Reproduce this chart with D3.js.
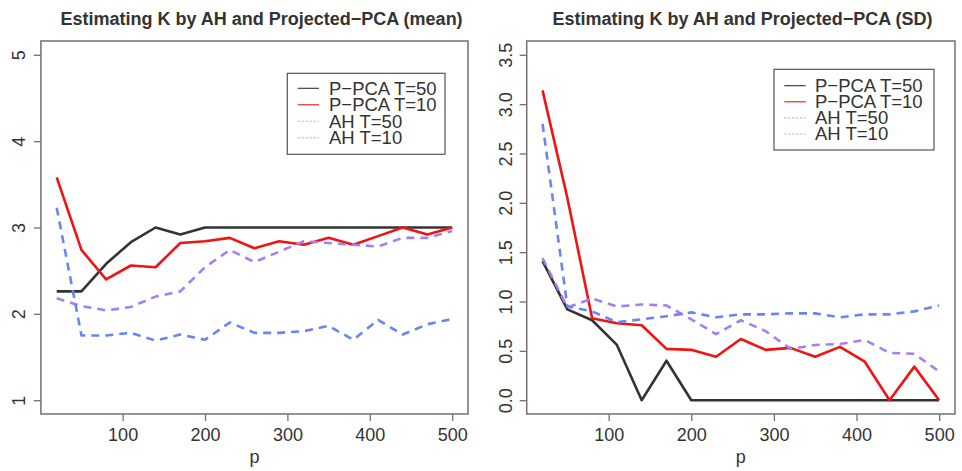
<!DOCTYPE html>
<html><head><meta charset="utf-8">
<script src="https://cdn.jsdelivr.net/npm/d3@7"></script>
<style>body{margin:0;background:#fff}svg{display:block}text{font-family:"Liberation Sans",Arial,sans-serif;fill:#333}</style>
</head><body>
<svg id="c" width="962" height="471"></svg>
<script>
const pValues = [20,50,80,110,140,170,200,230,260,290,320,350,380,410,440,470,500];
const xTicks = [100,200,300,400,500];

// mean panel
const meanPPCA50 = [2.26,2.26,2.58,2.83,3.0,2.92,3.0,3.0,3.0,3.0,3.0,3.0,3.0,3.0,3.0,3.0,3.0];
const meanPPCA10 = [3.58,2.74,2.40,2.56,2.54,2.82,2.84,2.88,2.76,2.84,2.80,2.88,2.80,2.90,3.0,2.92,3.0];
const meanAH50   = [2.18,2.09,2.04,2.08,2.20,2.26,2.54,2.74,2.60,2.72,2.84,2.82,2.80,2.78,2.88,2.88,2.96];
const meanAH10   = [3.23,1.75,1.75,1.78,1.69,1.76,1.70,1.90,1.78,1.78,1.80,1.86,1.70,1.93,1.76,1.88,1.94];
const meanYTicks = [1,2,3,4,5];

// SD panel
const sdPPCA50 = [1.41,0.92,0.81,0.56,0.0,0.40,0.0,0.0,0.0,0.0,0.0,0.0,0.0,0.0,0.0,0.0,0.0];
const sdPPCA10 = [3.14,2.05,0.83,0.78,0.76,0.52,0.51,0.44,0.62,0.51,0.53,0.44,0.54,0.39,0.0,0.34,0.0];
const sdAH50   = [1.44,0.94,1.03,0.95,0.97,0.96,0.82,0.67,0.81,0.70,0.52,0.56,0.57,0.61,0.48,0.47,0.29];
const sdAH10   = [2.80,0.95,0.90,0.79,0.82,0.85,0.89,0.84,0.87,0.87,0.88,0.88,0.84,0.87,0.87,0.90,0.96];
const sdYTicks = [0,0.5,1,1.5,2,2.5,3,3.5];

const legendLabels = ["P\u2212PCA T=50","P\u2212PCA T=10","AH T=50","AH T=10"];
const seriesStyle = [
  {color:"#333333", dash:null},
  {color:"#f21212", dash:null},
  {color:"#a57ff0", dash:"8,6"},
  {color:"#6b84f3", dash:"8,6"}
];

const svg = d3.select("#c");

function ext(a,b){const e=(b-a)*0.04;return [a-e,b+e];}

function panel(cfg){
  const x = d3.scaleLinear().domain(ext(20,500)).range([cfg.left, cfg.right]);
  const y = d3.scaleLinear().domain(ext(cfg.ymin,cfg.ymax)).range([414,41]);
  const g = svg.append("g");
  const data = cfg.series;
  const line = d3.line().x((d,i)=>x(pValues[i])).y(d=>y(d));
  [0,1,2,3].forEach(k=>{
    g.append("path").datum(data[k]).attr("d",line)
      .attr("fill","none").attr("stroke",seriesStyle[k].color)
      .attr("stroke-width",2.6).attr("stroke-dasharray",seriesStyle[k].dash)
      .attr("stroke-linejoin","round");
  });
  // box
  g.append("rect").attr("x",cfg.left).attr("y",41).attr("width",cfg.right-cfg.left).attr("height",373)
    .attr("fill","none").attr("stroke","#707070").attr("stroke-width",1.5);
  // x axis
  const xa = g.append("g").attr("transform","translate(0,414)")
    .call(d3.axisBottom(x).tickValues(xTicks).tickSize(7).tickPadding(7));
  xa.select(".domain").remove();
  xa.selectAll("line").attr("stroke","#707070").attr("stroke-width",1.3);
  xa.selectAll("text").attr("font-size",18).attr("fill","#333").attr("font-family","Liberation Sans, Arial, sans-serif");
  // y axis
  const ya = g.append("g").attr("transform",`translate(${cfg.left},0)`)
    .call(d3.axisLeft(y).tickValues(cfg.yTicks).tickSize(7).tickFormat(cfg.fmt));
  ya.select(".domain").remove();
  ya.selectAll("line").attr("stroke","#707070").attr("stroke-width",1.3);
  ya.selectAll("text").attr("font-size",18).attr("fill","#333").attr("font-family","Liberation Sans, Arial, sans-serif")
    .attr("x",null).attr("dy",null)
    .attr("text-anchor","middle")
    .attr("transform",`translate(${-cfg.labOff},0) rotate(-90)`);
  // x label
  g.append("text").attr("x",(cfg.left+cfg.right)/2).attr("y",463).attr("text-anchor","middle")
    .attr("font-size",18).text("p");
  // title
  g.append("text").attr("x",cfg.titleX).attr("y",25).attr("text-anchor","middle")
    .attr("font-size",18).attr("font-weight","bold").text(cfg.title);
  // legend
  const L = cfg.legend;
  g.append("rect").attr("x",L.x).attr("y",L.y).attr("width",L.w).attr("height",L.h)
    .attr("fill","#fff").attr("stroke","#555").attr("stroke-width",1.2);
  legendLabels.forEach((lab,i)=>{
    const cy = L.row0 + i*L.step;
    g.append("line").attr("x1",L.lx1).attr("x2",L.lx2).attr("y1",cy).attr("y2",cy)
      .attr("stroke",seriesStyle[i].color).attr("stroke-width",1.1)
      .attr("stroke-dasharray",seriesStyle[i].dash?"2,2":null)
      .attr("stroke-opacity",seriesStyle[i].dash?0.7:1);
    g.append("text").attr("x",L.tx).attr("y",cy+6.2).attr("font-size",18.5).text(lab);
  });
}

panel({left:40.9,right:468,ymin:1,ymax:5,yTicks:meanYTicks,fmt:d3.format("d"),labOff:16,
  series:[meanPPCA50,meanPPCA10,meanAH50,meanAH10],
  title:"Estimating K by AH and Projected\u2212PCA (mean)",titleX:261.5,
  legend:{x:287.3,y:73.3,w:157.7,h:81,lx1:297.7,lx2:319,tx:329,row0:88.3,step:16.5}});
panel({left:526.7,right:955,ymin:0,ymax:3.5,yTicks:sdYTicks,fmt:d3.format(".1f"),labOff:15,
  series:[sdPPCA50,sdPPCA10,sdAH50,sdAH10],
  title:"Estimating K by AH and Projected\u2212PCA (SD)",titleX:742.5,
  legend:{x:774,y:69.3,w:160,h:80.7,lx1:784.3,lx2:805.7,tx:815,row0:85.7,step:16.1}});
</script>
</body></html>
